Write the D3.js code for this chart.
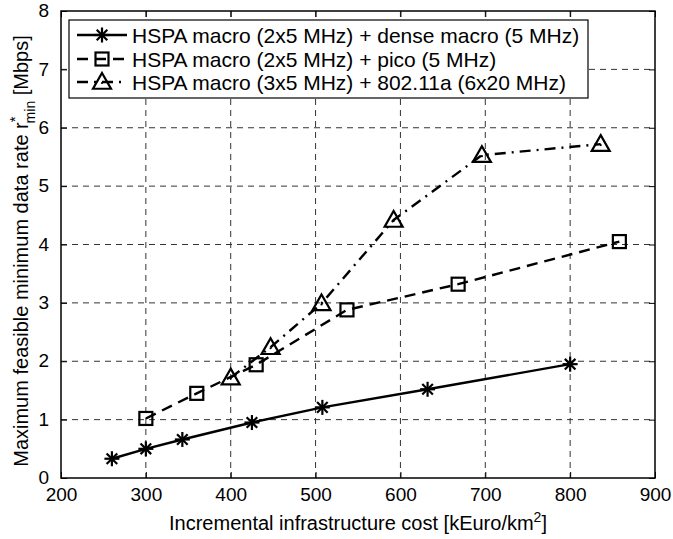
<!DOCTYPE html>
<html>
<head>
<meta charset="utf-8">
<script src="https://cdn.jsdelivr.net/npm/d3@7"></script>
<style>
  body { margin: 0; background: #fff; }
  text { font-family: "Liberation Sans", Arial, sans-serif; }
</style>
</head>
<body>
<div id="vis"></div>
<script>
// chart values
var xTicks = [200, 300, 400, 500, 600, 700, 800, 900];
var yTicks = [0, 1, 2, 3, 4, 5, 6, 7, 8];

var denseCost = [260, 300, 343, 425, 508, 632, 800];
var denseRate = [0.33, 0.50, 0.66, 0.95, 1.21, 1.52, 1.95];

var picoCost = [300, 360, 430, 537, 668, 858];
var picoRate = [1.02, 1.45, 1.94, 2.88, 3.32, 4.05];

var wlanCost = [400, 447, 507, 592, 696, 836];
var wlanRate = [1.72, 2.24, 2.99, 4.42, 5.53, 5.72];

var seriesNames = [
  'HSPA macro (2x5 MHz) + dense macro (5 MHz)',
  'HSPA macro (2x5 MHz) + pico (5 MHz)',
  'HSPA macro (3x5 MHz) + 802.11a (6x20 MHz)'
];

var width = 673;
var height = 539;
var margin = { top: 11, left: 61, bottom: 61, right: 18 };
var fontSize = 20;

var svg = d3.select('#vis').append('svg')
  .attr('width', width)
  .attr('height', height);

var w = width - margin.left - margin.right;
var h = height - margin.top - margin.bottom;

var g = svg.append('g')
  .attr('transform', 'translate(' + margin.left + ',' + margin.top + ')');

var x = d3.scaleLinear().domain([200, 900]).range([0, w]);
var y = d3.scaleLinear().domain([0, 8]).range([h, 0]);

// grid
g.selectAll('.vgrid')
  .data(xTicks.slice(1, -1))
  .enter().append('line')
  .attr('x1', function (d) { return x(d); })
  .attr('x2', function (d) { return x(d); })
  .attr('y1', 0).attr('y2', h)
  .attr('stroke', '#333').attr('stroke-width', 1)
  .attr('stroke-dasharray', '6,5');

g.selectAll('.hgrid')
  .data(yTicks.slice(1, -1))
  .enter().append('line')
  .attr('y1', function (d) { return y(d); })
  .attr('y2', function (d) { return y(d); })
  .attr('x1', 0).attr('x2', w)
  .attr('stroke', '#333').attr('stroke-width', 1)
  .attr('stroke-dasharray', '6,5');

// axes with inward ticks
var xAxis = g.append('g')
  .attr('transform', 'translate(0,' + h + ')')
  .call(d3.axisBottom(x).tickValues(xTicks).tickSizeInner(-6).tickSizeOuter(0).tickPadding(13));
var yAxis = g.append('g')
  .call(d3.axisLeft(y).tickValues(yTicks).tickSizeInner(-6).tickSizeOuter(0).tickPadding(12));
g.append('g')
  .call(d3.axisTop(x).tickValues(xTicks).tickSizeInner(-6).tickSizeOuter(0).tickFormat(''));
g.append('g')
  .attr('transform', 'translate(' + w + ',0)')
  .call(d3.axisRight(y).tickValues(yTicks).tickSizeInner(-6).tickSizeOuter(0).tickFormat(''));

svg.selectAll('.domain').remove();
svg.selectAll('.tick line').attr('stroke', '#000').attr('stroke-width', 1);
svg.selectAll('.tick text')
  .attr('font-size', 19)
  .attr('font-family', '"Liberation Sans", Arial, sans-serif')
  .attr('fill', '#000');
xAxis.selectAll('.tick text').attr('dy', '0.5em');
yAxis.selectAll('.tick text').attr('dy', '0.3em');

g.append('rect')
  .attr('x', 0).attr('y', 0).attr('width', w).attr('height', h)
  .attr('fill', 'none').attr('stroke', '#000').attr('stroke-width', 1.5);

// markers
function star(sel, cx, cy) {
  var r = 7.5;
  var p = sel.append('g').attr('transform', 'translate(' + cx + ',' + cy + ')');
  for (var a = 0; a < 4; a++) {
    var ang = a * Math.PI / 4 + Math.PI / 2;
    p.append('line')
      .attr('x1', -r * Math.cos(ang)).attr('y1', -r * Math.sin(ang))
      .attr('x2', r * Math.cos(ang)).attr('y2', r * Math.sin(ang))
      .attr('stroke', '#000').attr('stroke-width', 2.2);
  }
}
function square(sel, cx, cy) {
  sel.append('rect')
    .attr('x', cx - 6.5).attr('y', cy - 6.5).attr('width', 13).attr('height', 13)
    .attr('fill', 'none').attr('stroke', '#000').attr('stroke-width', 2.2);
}
function triangle(sel, cx, cy) {
  var s = 9;
  sel.append('path')
    .attr('d', 'M' + cx + ',' + (cy - s) + 'L' + (cx + s) + ',' + (cy + s * 0.75) + 'L' + (cx - s) + ',' + (cy + s * 0.75) + 'Z')
    .attr('fill', 'none').attr('stroke', '#000').attr('stroke-width', 2.2)
    .attr('stroke-linejoin', 'miter');
  sel.append('circle').attr('cx', cx).attr('cy', cy + 1).attr('r', 1.1).attr('fill', '#000');
}

var series = [
  { xs: denseCost, ys: denseRate, dash: null, mark: star },
  { xs: picoCost, ys: picoRate, dash: '11,7', mark: square },
  { xs: wlanCost, ys: wlanRate, dash: '11,6,2,6', mark: triangle }
];

var line = d3.line()
  .x(function (d) { return x(d[0]); })
  .y(function (d) { return y(d[1]); });

series.forEach(function (s) {
  var pts = s.xs.map(function (v, i) { return [v, s.ys[i]]; });
  g.append('path')
    .attr('d', line(pts))
    .attr('fill', 'none').attr('stroke', '#000').attr('stroke-width', 2.4)
    .attr('stroke-dasharray', s.dash);
  pts.forEach(function (p) { s.mark(g, x(p[0]), y(p[1])); });
});

// legend
var lg = svg.append('g').attr('transform', 'translate(69,20)');
lg.append('rect')
  .attr('width', 519).attr('height', 78)
  .attr('fill', '#fff').attr('stroke', '#000').attr('stroke-width', 1.2);
var rows = [15, 39, 62];
series.forEach(function (s, i) {
  lg.append('line')
    .attr('x1', 8).attr('x2', 58).attr('y1', rows[i]).attr('y2', rows[i])
    .attr('stroke', '#000').attr('stroke-width', 2.4)
    .attr('stroke-dasharray', s.dash);
  s.mark(lg, 33, rows[i]);
  lg.append('text')
    .attr('x', 63).attr('y', rows[i]).attr('dy', '0.36em')
    .attr('font-size', 21)
    .text(seriesNames[i]);
});

// axis labels
var xl = svg.append('text')
  .attr('x', margin.left + w / 2).attr('y', 530)
  .attr('text-anchor', 'middle').attr('font-size', fontSize);
xl.append('tspan').text('Incremental infrastructure cost [kEuro/km');
xl.append('tspan').attr('dy', -8).attr('font-size', 14).text('2');
xl.append('tspan').attr('dy', 8).text(']');

var yl = svg.append('text')
  .attr('transform', 'translate(28,' + 251 + ') rotate(-90)')
  .attr('text-anchor', 'middle').attr('font-size', fontSize);
yl.append('tspan').text('Maximum feasible minimum data rate r');
yl.append('tspan').attr('dy', -8).attr('font-size', 15).text('*');
yl.append('tspan').attr('dy', 15).attr('dx', -7).attr('font-size', 14).text('min');
yl.append('tspan').attr('dy', -7).text(' [Mbps]');
</script>
</body>
</html>
